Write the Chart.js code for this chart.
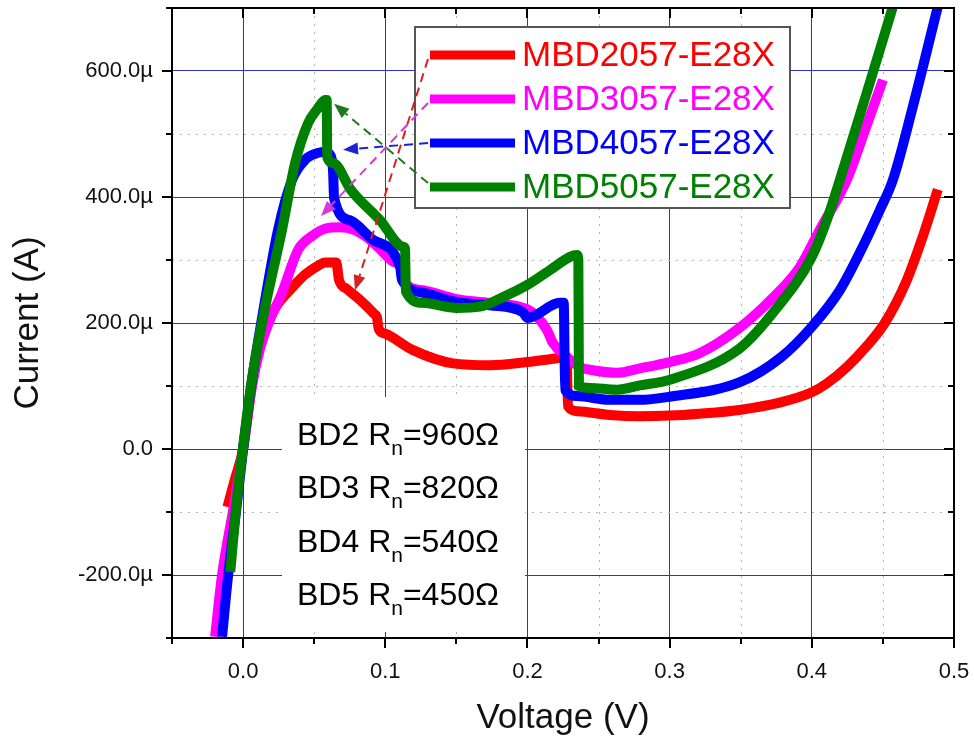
<!DOCTYPE html>
<html>
<head>
<meta charset="utf-8">
<title>I-V curves</title>
<script src="https://cdn.jsdelivr.net/npm/chart.js@4.4.1/dist/chart.umd.min.js"></script>
<style>
  html, body { margin: 0; padding: 0; background: #fff; }
  #wrap { width: 974px; height: 740px; }
</style>
</head>
<body>
<div id="wrap"><canvas id="ivChart" width="974" height="740"></canvas></div>
<script>
const FONT = '"Liberation Sans", Arial, sans-serif';

// series
const seriesNames = ['MBD2057-E28X', 'MBD3057-E28X', 'MBD4057-E28X', 'MBD5057-E28X'];
const seriesColors = ['#ff0000', '#ff00ff', '#0000ff', '#008000'];
const arrowColors = ['#d92020', '#d838d8', '#2020d8', '#1c7a1c'];

// voltage (V) / current (µA)
const voltsBD2 = [-0.011, -0.006, 0, 0.0063, 0.012, 0.018, 0.025, 0.0344, 0.0436, 0.052, 0.058, 0.0655,
  0.0675, 0.073, 0.0815, 0.0925, 0.094, 0.0955, 0.1, 0.1195, 0.1476, 0.1736, 0.1996, 0.2207, 0.2275,
  0.2285, 0.235, 0.258, 0.279, 0.3, 0.321, 0.349, 0.378, 0.4, 0.4105, 0.4246, 0.4385, 0.4513, 0.4668,
  0.478, 0.4886];
const ampsBD2 = [-92, -50, 0, 105, 168, 205, 232, 256, 277, 290, 296, 296,
  268, 254, 238, 214, 210, 190, 183, 157, 136, 133, 138, 144, 146,
  68, 60, 54, 52, 53, 56, 62, 74, 90, 104, 130, 163, 200, 268,
  337, 412];

const voltsBD3 = [-0.0197, -0.0148, -0.007, 0, 0.0063, 0.012, 0.018, 0.0274, 0.0387, 0.0485, 0.058, 0.068,
  0.078, 0.087, 0.096, 0.105, 0.1115, 0.1125, 0.1265, 0.15, 0.1736, 0.1996, 0.2067, 0.2137, 0.218,
  0.2278, 0.2369, 0.246, 0.263, 0.279, 0.3, 0.321, 0.349, 0.3726, 0.3916, 0.4056, 0.4246, 0.438, 0.45];
const ampsBD3 = [-298, -200, -97, 0, 100, 160, 200, 248, 316, 338, 350, 352,
  348, 336, 318, 298, 284, 268, 252, 238, 232, 222, 210, 189, 168,
  146, 130, 125, 121, 128, 138, 152, 192, 240, 289, 348, 427, 510, 586];

const voltsBD4 = [-0.0148, -0.0105, -0.005, 0, 0.0063, 0.012, 0.0246, 0.0344, 0.0436, 0.0527, 0.0576,
  0.0615, 0.0633, 0.064, 0.0752, 0.0914, 0.1104, 0.1118, 0.1265, 0.1504, 0.1736, 0.1968, 0.2, 0.2228,
  0.2255, 0.2265, 0.235, 0.258, 0.279, 0.3, 0.3494, 0.3786, 0.4, 0.4197, 0.4358, 0.4478, 0.457, 0.471,
  0.4886];
const ampsBD4 = [-298, -200, -100, 0, 110, 190, 348, 427, 459, 470, 472,
  466, 440, 398, 363, 332, 289, 268, 248, 233, 228, 217, 208, 232,
  232, 94, 84, 78, 78, 83, 106, 146, 194, 252, 321, 379, 427, 543,
  702];

const voltsBD5 = [-0.009, -0.0042, 0, 0.0063, 0.0155, 0.0274, 0.0366, 0.0457, 0.0527, 0.0576, 0.0588,
  0.0592, 0.0633, 0.0759, 0.0964, 0.1125, 0.1139, 0.1145, 0.1265, 0.1504, 0.1666, 0.1828, 0.1996,
  0.2158, 0.2299, 0.2348, 0.2358, 0.2362, 0.244, 0.263, 0.279, 0.3002, 0.3494, 0.3726, 0.4, 0.4105,
  0.4197, 0.4429, 0.457];
const ampsBD5 = [-195, -76, 3, 112, 225, 348, 454, 517, 541, 554, 554,
  463, 454, 411, 363, 321, 318, 250, 232, 224, 226, 241, 260,
  284, 305, 308, 300, 100, 97, 94, 101, 110, 160, 216, 305, 363,
  427, 597, 702];

// axis ticks
const xMin = -0.05, xMax = 0.5, xStep = 0.05, xMajor = 0.1;
const yMin = -300, yMax = 700, yStep = 100, yMajor = 200;

// note box text
const noteDevices = ['BD2', 'BD3', 'BD4', 'BD5'];
const noteOhms = ['960', '820', '540', '450'];

// arrow tips (data units) pointing from the legend to each curve
const arrowTipV = [0.0787, 0.0548, 0.0703, 0.064];
const arrowTipI = [252, 370, 475, 548];

function isMajor(v, step) {
  const r = v / step;
  return Math.abs(r - Math.round(r)) < 1e-6;
}

function makeSet(i, vs, is) {
  return {
    label: seriesNames[i],
    data: vs.map((v, k) => ({ x: v, y: is[k] })),
    borderColor: seriesColors[i],
    backgroundColor: seriesColors[i],
    borderWidth: 10,
    borderJoinStyle: 'miter',
    pointRadius: 0,
    showLine: true,
    cubicInterpolationMode: 'monotone',
    clip: 0,
    order: 4 - i
  };
}

function drawArrow(ctx, x0, y0, x1, y1, color) {
  const ang = Math.atan2(y1 - y0, x1 - x0);
  const head = 15, half = 6;
  const bx = x1 - head * Math.cos(ang), by = y1 - head * Math.sin(ang);
  ctx.save();
  ctx.strokeStyle = color;
  ctx.fillStyle = color;
  ctx.lineWidth = 2;
  ctx.setLineDash([9, 6]);
  ctx.beginPath();
  ctx.moveTo(x0, y0);
  ctx.lineTo(bx, by);
  ctx.stroke();
  ctx.setLineDash([]);
  ctx.beginPath();
  ctx.moveTo(x1, y1);
  ctx.lineTo(bx + half * Math.sin(ang), by - half * Math.cos(ang));
  ctx.lineTo(bx - half * Math.sin(ang), by + half * Math.cos(ang));
  ctx.closePath();
  ctx.fill();
  ctx.restore();
}

// no extra label-overflow padding, the plot box is fixed
function fixBox(size) {
  return s => {
    if (s.isHorizontal()) s.height = size; else s.width = size;
    s.paddingLeft = 0; s.paddingRight = 0; s.paddingTop = 0; s.paddingBottom = 0;
  };
}

// dotted minor grid, note box, frame with ticks, legend and arrows
const decorPlugin = {
  id: 'decor',
  beforeDatasetsDraw(chart) {
    const { ctx, chartArea: a, scales: { x, y } } = chart;
    ctx.save();
    ctx.strokeStyle = '#a6bea6';
    ctx.lineWidth = 1;
    ctx.setLineDash([2, 6]);
    x.ticks.forEach(t => {
      if (isMajor(t.value, xMajor)) return;
      const px = Math.round(x.getPixelForValue(t.value)) + 0.5;
      ctx.beginPath(); ctx.moveTo(px, a.top); ctx.lineTo(px, a.bottom); ctx.stroke();
    });
    y.ticks.forEach(t => {
      if (isMajor(t.value, yMajor)) return;
      const py = Math.round(y.getPixelForValue(t.value)) + 0.5;
      ctx.beginPath(); ctx.moveTo(a.left, py); ctx.lineTo(a.right, py); ctx.stroke();
    });
    ctx.restore();

    // note box
    ctx.save();
    ctx.fillStyle = '#ffffff';
    ctx.fillRect(a.left + 110, a.top + 389, 243, 235);
    ctx.fillStyle = '#000000';
    ctx.textBaseline = 'alphabetic';
    noteDevices.forEach((dev, k) => {
      const base = a.top + 437 + k * 53.3;
      let tx = a.left + 125;
      ctx.font = '32px ' + FONT;
      ctx.fillText(dev + ' R', tx, base);
      tx += ctx.measureText(dev + ' R').width;
      ctx.font = '21px ' + FONT;
      ctx.fillText('n', tx, base + 10);
      tx += ctx.measureText('n').width;
      ctx.font = '32px ' + FONT;
      ctx.fillText('=' + noteOhms[k] + '\u03A9', tx, base);
    });
    ctx.restore();
  },
  afterDatasetsDraw(chart) {
    const { ctx, chartArea: a, scales: { x, y } } = chart;
    ctx.save();
    // frame
    ctx.strokeStyle = '#000';
    ctx.lineWidth = 2;
    ctx.strokeRect(a.left, a.top, a.right - a.left, a.bottom - a.top);
    // ticks
    x.ticks.forEach(t => {
      const len = isMajor(t.value, xMajor) ? 10 : 6;
      const px = Math.round(x.getPixelForValue(t.value));
      ctx.beginPath();
      ctx.moveTo(px, a.bottom); ctx.lineTo(px, a.bottom + len);
      ctx.moveTo(px, a.top); ctx.lineTo(px, a.top + len);
      ctx.stroke();
    });
    y.ticks.forEach(t => {
      const len = isMajor(t.value, yMajor) ? 10 : 6;
      const py = Math.round(y.getPixelForValue(t.value));
      ctx.beginPath();
      ctx.moveTo(a.left, py); ctx.lineTo(a.left - len, py);
      ctx.moveTo(a.right, py); ctx.lineTo(a.right - len, py);
      ctx.stroke();
    });
    ctx.restore();

    // legend
    const lx = a.left + 243, ly = a.top + 19, lw = 375, lh = 181;
    const rowY0 = a.top + 47, rowGap = 44;
    ctx.save();
    ctx.fillStyle = '#ffffff';
    ctx.fillRect(lx, ly, lw, lh);
    ctx.strokeStyle = '#555';
    ctx.lineWidth = 2;
    ctx.strokeRect(lx, ly, lw, lh);
    ctx.font = '35px ' + FONT;
    ctx.textBaseline = 'middle';
    seriesNames.forEach((name, i) => {
      const ry = rowY0 + i * rowGap;
      ctx.strokeStyle = seriesColors[i];
      ctx.lineWidth = 9;
      ctx.beginPath();
      ctx.moveTo(lx + 15, ry); ctx.lineTo(lx + 100, ry);
      ctx.stroke();
      ctx.fillStyle = seriesColors[i];
      ctx.fillText(name, lx + 107, ry + 1);
    });
    ctx.restore();

    // arrows from legend to curves
    seriesNames.forEach((name, i) => {
      const ry = rowY0 + i * rowGap;
      drawArrow(ctx, lx + 13, ry + (i === 3 ? -4 : i < 2 ? 4 : 0),
        x.getPixelForValue(arrowTipV[i]), y.getPixelForValue(arrowTipI[i]), arrowColors[i]);
    });
  }
};

new Chart(document.getElementById('ivChart'), {
  type: 'scatter',
  data: {
    datasets: [
      makeSet(0, voltsBD2, ampsBD2),
      makeSet(1, voltsBD3, ampsBD3),
      makeSet(2, voltsBD4, ampsBD4),
      makeSet(3, voltsBD5, ampsBD5)
    ]
  },
  options: {
    responsive: false,
    animation: false,
    layout: { padding: { top: 8, right: 20, left: 0, bottom: 0 } },
    plugins: {
      legend: { display: false },
      tooltip: { enabled: false }
    },
    scales: {
      x: {
        type: 'linear',
        min: xMin, max: xMax,
        afterFit: fixBox(102),
        ticks: {
          stepSize: xStep,
          autoSkip: false,
          maxRotation: 0,
          padding: 21,
          color: '#111',
          font: { family: FONT, size: 22 },
          callback: v => isMajor(v, xMajor) ? v.toFixed(1) : ''
        },
        grid: {
          drawTicks: false,
          lineWidth: 1,
          color: c => isMajor(c.tick.value, xMajor) ? '#3030d0' : 'rgba(0,0,0,0)'
        },
        border: { display: false },
        title: {
          display: true,
          text: 'Voltage (V)',
          color: '#111',
          font: { family: FONT, size: 35 },
          padding: { top: 0, bottom: 1 }
        }
      },
      y: {
        type: 'linear',
        min: yMin, max: yMax,
        afterFit: fixBox(172),
        ticks: {
          stepSize: yStep,
          autoSkip: false,
          padding: 19,
          color: '#111',
          font: { family: FONT, size: 22 },
          callback: v => isMajor(v, yMajor) ? (v === 0 ? '0.0' : v.toFixed(1) + '\u00B5') : ''
        },
        grid: {
          drawTicks: false,
          lineWidth: 1,
          color: c => isMajor(c.tick.value, yMajor) ? '#3030d0' : 'rgba(0,0,0,0)'
        },
        border: { display: false },
        title: {
          display: true,
          text: 'Current (A)',
          color: '#111',
          font: { family: FONT, size: 35 },
          padding: { top: 7, bottom: 0 }
        }
      }
    }
  },
  plugins: [decorPlugin]
});
</script>
</body>
</html>
